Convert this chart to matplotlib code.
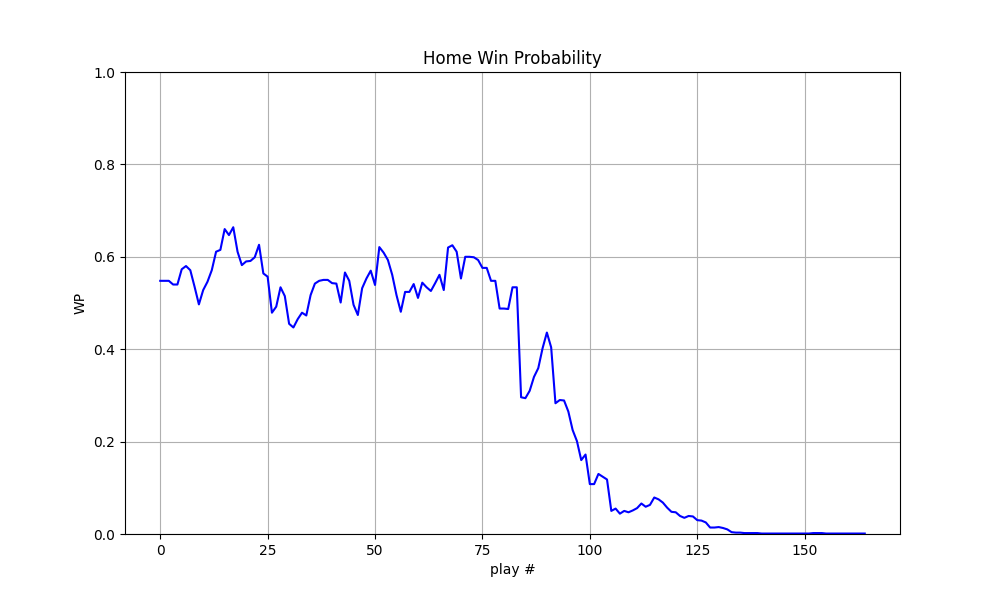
import matplotlib.pyplot as plt

# home win probability for each play
wp = [
    0.548, 0.548, 0.548, 0.540, 0.540, 0.573, 0.580, 0.571, 0.535, 0.497,
    0.528, 0.546, 0.571, 0.611, 0.615, 0.660, 0.647, 0.664, 0.611, 0.582,
    0.590, 0.591, 0.599, 0.626, 0.564, 0.557, 0.479, 0.492, 0.534, 0.515,
    0.455, 0.447, 0.465, 0.479, 0.473, 0.517, 0.542, 0.548, 0.550, 0.550,
    0.543, 0.542, 0.501, 0.566, 0.548, 0.496, 0.474, 0.532, 0.553, 0.570,
    0.539, 0.621, 0.609, 0.593, 0.561, 0.517, 0.481, 0.524, 0.524, 0.541,
    0.511, 0.544, 0.534, 0.526, 0.543, 0.561, 0.528, 0.620, 0.625, 0.611,
    0.553, 0.600, 0.600, 0.599, 0.593, 0.576, 0.576, 0.548, 0.548, 0.488,
    0.488, 0.487, 0.534, 0.534, 0.296, 0.294, 0.310, 0.340, 0.359, 0.402,
    0.436, 0.404, 0.283, 0.290, 0.289, 0.265, 0.225, 0.201, 0.160, 0.172,
    0.108, 0.108, 0.130, 0.124, 0.118, 0.050, 0.055, 0.044, 0.050, 0.047,
    0.051, 0.056, 0.066, 0.059, 0.063, 0.079, 0.075, 0.068, 0.057, 0.048,
    0.047, 0.039, 0.035, 0.039, 0.038, 0.030, 0.029, 0.025, 0.014, 0.014,
    0.015, 0.013, 0.010, 0.004, 0.003, 0.003, 0.002, 0.002, 0.002, 0.002,
    0.001, 0.001, 0.001, 0.001, 0.001, 0.001, 0.001, 0.001, 0.001, 0.001,
    0.001, 0.001, 0.002, 0.002, 0.002, 0.001, 0.001, 0.001, 0.001, 0.001,
    0.001, 0.001, 0.001, 0.001, 0.001,
]
plays = list(range(len(wp)))

fig = plt.figure(figsize=(10, 6), dpi=100)
plt.plot(plays, wp, color='b')
plt.ylim(0, 1)
plt.grid(True)
plt.title('Home Win Probability')
plt.xlabel('play #')
plt.ylabel('WP')
plt.savefig('out.png')
